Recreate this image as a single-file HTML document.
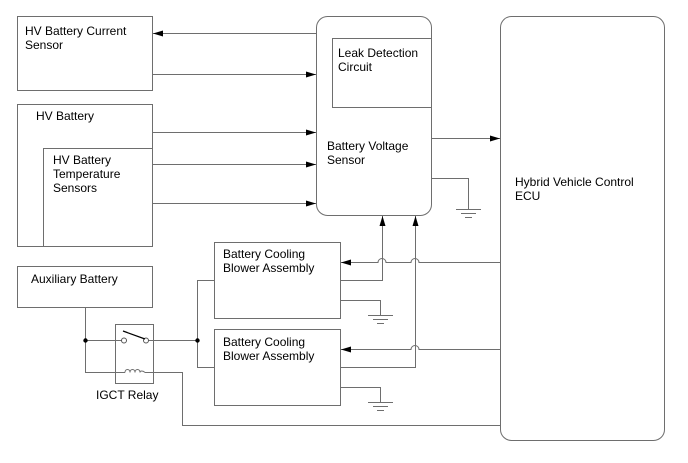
<!DOCTYPE html>
<html><head><style>html,body{margin:0;padding:0;background:#fff}svg{display:block}text{font-family:"Liberation Sans",Arial,sans-serif;font-size:12px;fill:#000}</style></head><body>
<svg width="688" height="463" viewBox="0 0 688 463" xmlns="http://www.w3.org/2000/svg">
<defs><marker id="a" markerWidth="10" markerHeight="6" refX="10" refY="3" orient="auto" markerUnits="userSpaceOnUse"><path d="M0,0 L10,3 L0,6 z" fill="#000"/></marker></defs>
<g fill="none" stroke="#6e6e6e" stroke-width="1">
<rect x="17.5" y="16.5" width="135" height="74"/>
<rect x="17.5" y="104.5" width="135" height="142"/>
<rect x="43.5" y="148.5" width="109" height="98"/>
<rect x="17.5" y="266.5" width="135" height="41"/>
<rect x="316.5" y="16.5" width="115" height="199" rx="11"/>
<rect x="332.5" y="38.5" width="99" height="69"/>
<rect x="500.5" y="16.5" width="164" height="424" rx="11"/>
<rect x="214.5" y="242.5" width="126" height="76"/>
<rect x="214.5" y="329.5" width="126" height="76"/>
<rect x="115.5" y="324.5" width="38" height="59"/>
<path d="M316 33.5H153" marker-end="url(#a)"/>
<path d="M153 74.5H316" marker-end="url(#a)"/>
<path d="M153 132.5H316" marker-end="url(#a)"/>
<path d="M153 164.5H316" marker-end="url(#a)"/>
<path d="M153 203.5H316" marker-end="url(#a)"/>
<path d="M431 138.5H500" marker-end="url(#a)"/>
<path d="M431 178.5H468.5V209"/>
<path d="M456 209.5H481M461 213.5H476M465 217.5H472"/>
<path d="M340 280.5H382.5V216" marker-end="url(#a)"/>
<path d="M340 367.5H415.5V216" marker-end="url(#a)"/>
<path d="M500 262.5H419a4 4 0 0 0-8 0H386a4 4 0 0 0-8 0H341" marker-end="url(#a)"/>
<path d="M500 349.5H419a4 4 0 0 0-8 0H341" marker-end="url(#a)"/>
<path d="M340 300.5H380.5V315M368 315.5H393M373 319.5H388M377 323.5H384"/>
<path d="M340 387.5H380.5V402M368 402.5H393M373 406.5H388M377 410.5H384"/>
<path d="M85.5 307V372.5H125M145 372.5H182.5V425.5H500"/>
<path d="M85 340.5H122M148 340.5H197.5"/>
<path d="M214 280.5H197.5V367.5H214"/>
<path d="M125 372.5c0-4 5-4 5 0c0-4 5-4 5 0c0-4 5-4 5 0c0-2 3-2 5 0"/>
</g>
<g fill="none" stroke="#000">
<circle cx="124" cy="340.5" r="2.5" stroke="#555"/>
<circle cx="146" cy="340.5" r="2.5" stroke="#555"/>
<path d="M123 331L145 339" stroke-width="1.2"/>
</g>
<circle cx="85.5" cy="340.5" r="2.2" fill="#000"/>
<circle cx="197.5" cy="340.5" r="2.2" fill="#000"/>
<text x="25" y="35">HV Battery Current</text><text x="25" y="49">Sensor</text>
<text x="36" y="120">HV Battery</text>
<text x="53" y="164">HV Battery</text><text x="53" y="178">Temperature</text><text x="53" y="192">Sensors</text>
<text x="31" y="283">Auxiliary Battery</text>
<text x="338" y="57">Leak Detection</text><text x="338" y="71">Circuit</text>
<text x="327" y="150">Battery Voltage</text><text x="327" y="164">Sensor</text>
<text x="515" y="186">Hybrid Vehicle Control</text><text x="515" y="200">ECU</text>
<text x="223" y="258">Battery Cooling</text><text x="223" y="272">Blower Assembly</text>
<text x="223" y="346">Battery Cooling</text><text x="223" y="360">Blower Assembly</text>
<text x="96" y="399">IGCT Relay</text>
</svg>
</body></html>
